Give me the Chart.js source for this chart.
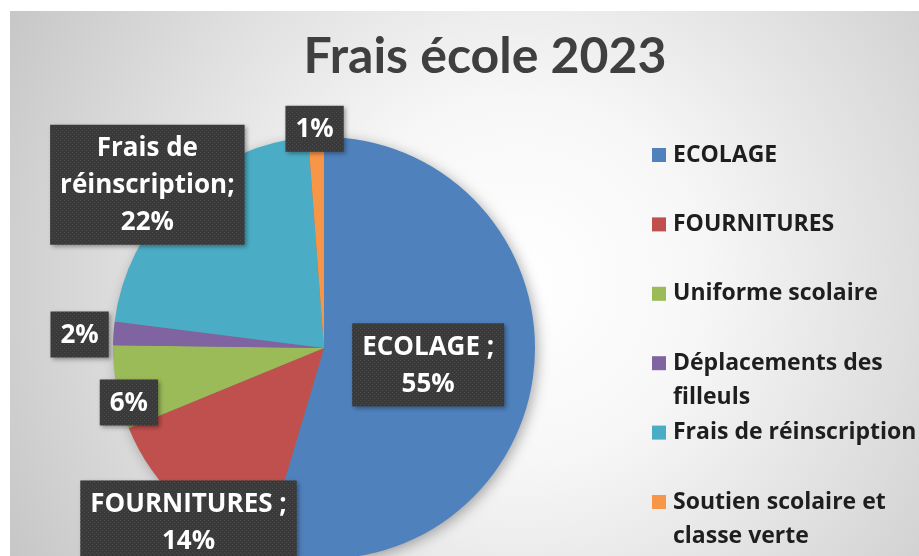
<!DOCTYPE html>
<html lang="fr">
<head>
<meta charset="utf-8">
<title>Frais école 2023</title>
<script src="https://cdn.jsdelivr.net/npm/chart.js@4.4.1/dist/chart.umd.min.js"></script>
<style>
    html, body { margin: 0; padding: 0; background: #fff; overflow: hidden; }
    .cadre { width: 919px; height: 556px; overflow: hidden; }
    canvas { display: block; }
</style>
</head>
<body>
<div class="cadre">
    <canvas id="grafico-frais" width="919" height="600"></canvas>
</div>
<script>
/* ================================================
   FRAIS ÉCOLE 2023 — camembert
   ================================================ */

// ── DONNÉES ───────────────────────────────────
const titre = 'Frais école 2023';
const categories = [
    'ECOLAGE',
    'FOURNITURES',
    'Uniforme scolaire',
    'Déplacements des filleuls',
    'Frais de réinscription',
    'Soutien scolaire et classe verte'
];
// parts en %
const parts = [54.6, 14.2, 6.4, 1.8, 21.8, 1.2];
// texte des étiquettes, {p} = pourcentage
const etiquettes = [
    'ECOLAGE ;\n{p}',
    'FOURNITURES ;\n{p}',
    '{p}',
    '{p}',
    'Frais de\nréinscription;\n{p}',
    '{p}'
];

const couleurs = ['#4F81BD', '#C0504D', '#9BBB59', '#8064A2', '#4BACC6', '#F79646'];
const POLICE = "'Open Sans', Lato, sans-serif";
const POLICE_TITRE = "Lato, 'Open Sans', sans-serif";


// ── OUTILS ────────────────────────────────────
const couperTexte = (ctx, texte, largeurMax) => {
    const lignes = [];
    let ligne = '';
    texte.split(' ').forEach(mot => {
        const essai = ligne ? ligne + ' ' + mot : mot;
        if (ligne && ctx.measureText(essai).width > largeurMax) {
            lignes.push(ligne);
            ligne = mot;
        } else {
            ligne = essai;
        }
    });
    if (ligne) lignes.push(ligne);
    return lignes;
};

// petite trame pointillée des cadres d'étiquette
const trame = (() => {
    const c = document.createElement('canvas');
    c.width = 4; c.height = 4;
    const g = c.getContext('2d');
    g.fillStyle = '#3a3a3a';
    g.fillRect(0, 0, 4, 4);
    g.fillStyle = '#4a4a4a';
    g.fillRect(0, 0, 1, 1);
    g.fillRect(2, 2, 1, 1);
    return c;
})();


// ── PLUGIN : fond dégradé + ombre du camembert ─
const fondPlugin = {
    id: 'fond',
    beforeDraw(chart) {
        const { ctx, width, height } = chart;
        ctx.save();
        ctx.fillStyle = '#ffffff';
        ctx.fillRect(0, 0, width, height);
        const g = ctx.createRadialGradient(520, 280, 0, 520, 280, 600);
        g.addColorStop(0, '#ffffff');
        g.addColorStop(0.3, '#f7f7f7');
        g.addColorStop(0.65, '#dedede');
        g.addColorStop(1, '#c4c4c4');
        ctx.fillStyle = g;
        ctx.fillRect(10, 11, width - 10, height - 11);
        ctx.restore();
    },
    beforeDatasetsDraw(chart) {
        const arc = chart.getDatasetMeta(0).data[0];
        if (!arc) return;
        const { x, y, outerRadius } = arc.getProps(['x', 'y', 'outerRadius'], true);
        const ctx = chart.ctx;
        ctx.save();
        ctx.shadowColor = 'rgba(0,0,0,0.35)';
        ctx.shadowBlur = 14;
        ctx.shadowOffsetX = 3;
        ctx.shadowOffsetY = 3;
        ctx.fillStyle = '#777';
        ctx.beginPath();
        ctx.arc(x, y, outerRadius - 1, 0, Math.PI * 2);
        ctx.fill();
        ctx.restore();
    }
};


// ── PLUGIN : étiquettes de données ────────────
const etiquettesPlugin = {
    id: 'etiquettes',
    afterDatasetsDraw(chart, args, opts) {
        const { ctx } = chart;
        const valeurs = chart.data.datasets[0].data;
        const total = valeurs.reduce((a, b) => a + b, 0);
        const motif = ctx.createPattern(trame, 'repeat');

        ctx.save();
        ctx.font = opts.font;
        ctx.textAlign = 'center';
        ctx.textBaseline = 'middle';

        chart.getDatasetMeta(0).data.forEach((arc, i) => {
            const { x, y, startAngle, endAngle, outerRadius } =
                arc.getProps(['x', 'y', 'startAngle', 'endAngle', 'outerRadius'], true);
            const pl = opts.placement[i];
            const angle = (startAngle + endAngle) / 2 + pl.da * Math.PI / 180;
            const cx = x + Math.cos(angle) * outerRadius * pl.r;
            const cy = y + Math.sin(angle) * outerRadius * pl.r;

            const pct = Math.round(valeurs[i] / total * 100) + '%';
            const lignes = etiquettes[i].replace('{p}', pct).split('\n');
            const larg = Math.max(...lignes.map(l => ctx.measureText(l).width)) + opts.padX * 2;
            const haut = lignes.length * opts.interligne + opts.padY;

            ctx.save();
            ctx.shadowColor = 'rgba(0,0,0,0.35)';
            ctx.shadowBlur = 4;
            ctx.shadowOffsetX = 2;
            ctx.shadowOffsetY = 2;
            ctx.fillStyle = motif;
            ctx.fillRect(cx - larg / 2, cy - haut / 2, larg, haut);
            ctx.restore();

            ctx.fillStyle = '#ffffff';
            lignes.forEach((l, k) => {
                const ly = cy + (k - (lignes.length - 1) / 2) * opts.interligne + 1;
                ctx.fillText(l, cx, ly);
            });
        });
        ctx.restore();
    }
};


// ── PLUGIN : titre + légende à droite ─────────
const legendePlugin = {
    id: 'legendeFrais',
    afterDraw(chart, args, opts) {
        const { ctx } = chart;
        const ds = chart.data.datasets[0];
        ctx.save();

        // titre
        ctx.font = opts.titreFont;
        ctx.fillStyle = '#3f3f3f';
        ctx.textAlign = 'center';
        ctx.textBaseline = 'alphabetic';
        ctx.fillText(titre, opts.titreX, opts.titreY);

        // légende
        ctx.font = opts.font;
        ctx.textAlign = 'left';
        ctx.textBaseline = 'middle';
        chart.data.labels.forEach((lab, i) => {
            const y = opts.y + i * opts.pas;
            ctx.fillStyle = ds.backgroundColor[i];
            ctx.fillRect(opts.x, y - opts.carre / 2, opts.carre, opts.carre);
            ctx.fillStyle = '#1e1e1e';
            couperTexte(ctx, lab, opts.largeurMax).forEach((ligne, k) => {
                ctx.fillText(ligne, opts.x + opts.decal, y + k * opts.interligne);
            });
        });
        ctx.restore();
    }
};


// ── GRAPHIQUE ─────────────────────────────────
new Chart(document.getElementById('grafico-frais'), {
    type: 'pie',
    data: {
        labels: categories,
        datasets: [{
            data: parts,
            backgroundColor: couleurs,
            borderWidth: 0,
            offset: 0,
            hoverOffset: 0
        }]
    },
    options: {
        responsive: false,
        animation: false,
        events: [],
        layout: { padding: { left: 5, right: 276, top: 137, bottom: 41 } },
        plugins: {
            legend: { display: false },
            title: { display: false },
            tooltip: { enabled: false },
            etiquettes: {
                font: 'bold 26px ' + POLICE,
                interligne: 37,
                padX: 10,
                padY: 9,
                placement: [
                    { r: 0.50, da: 0.9 },
                    { r: 1.045, da: -4.2 },
                    { r: 0.96, da: -4.8 },
                    { r: 1.16, da: -0.8 },
                    { r: 1.14, da: -3.7 },
                    { r: 1.04, da: -0.3 }
                ]
            },
            legendeFrais: {
                titreFont: 'bold 50px ' + POLICE_TITRE,
                titreX: 485,
                titreY: 73,
                font: 'bold 23px ' + POLICE,
                x: 652,
                decal: 21,
                carre: 14,
                y: 155,
                pas: 69.4,
                interligne: 34,
                largeurMax: 260
            }
        }
    },
    plugins: [fondPlugin, etiquettesPlugin, legendePlugin]
});
</script>
</body>
</html>
